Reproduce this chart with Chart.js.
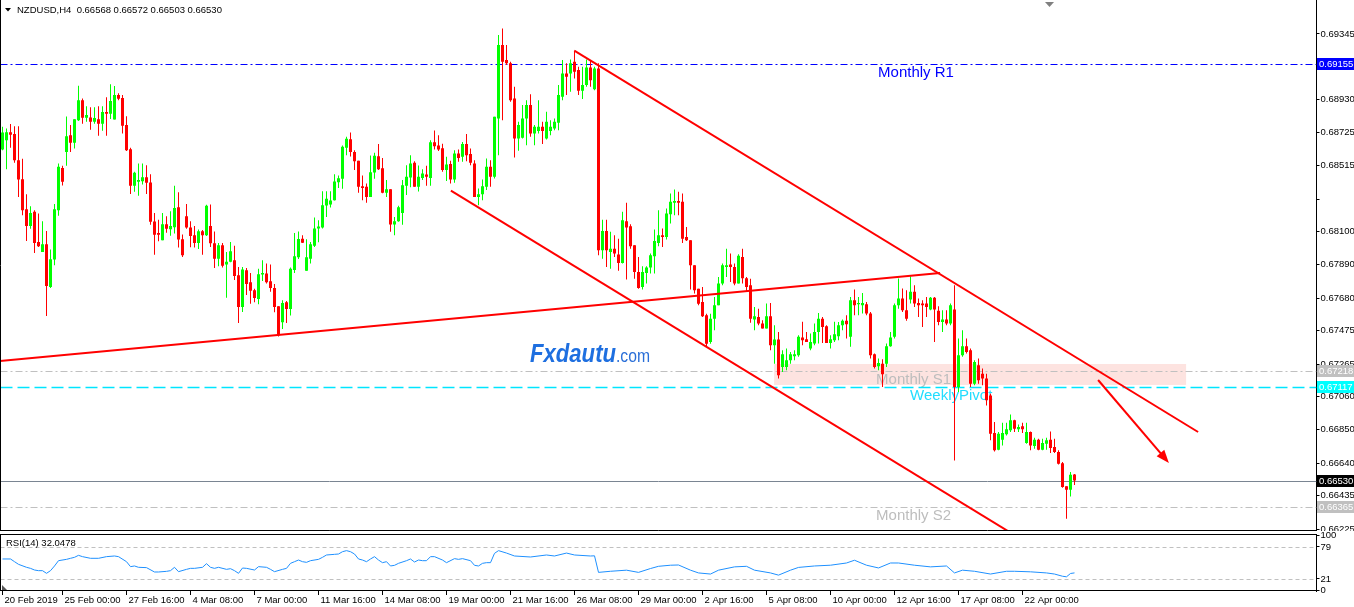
<!DOCTYPE html>
<html>
<head>
<meta charset="utf-8">
<script src="https://cdn.jsdelivr.net/npm/chart.js@4.4.1/dist/chart.umd.min.js"></script>
<style>
  html, body { margin: 0; padding: 0; background: #fff; }
  #wrap { position: relative; width: 1354px; height: 607px; overflow: hidden; background: #fff; }
  #main { position: absolute; left: 0; top: 0; }
  #rsi { position: absolute; left: 0; top: 531px; }
</style>
</head>
<body>
<div id="wrap">
  <canvas id="main" width="1354" height="531"></canvas>
  <canvas id="rsi" width="1354" height="76"></canvas>
</div>
<script>
// NZDUSD H4 candles
const opens = [
  .68617,.68676,.68726,.68714,.68550,.68430,.68241,.68135,.68224,.68034,
  .67971,.68020,.67751,.67923,.68234,.68501,.68602,.68707,.68659,.68802,
  .68928,.68817,.68819,.68792,.68808,.68779,.68853,.68842,.68806,.68960,
  .68941,.68771,.68619,.68388,.68413,.68417,.68442,.68409,.68163,.68091,
  .68045,.68146,.68114,.68127,.68253,.68051,.68196,.68125,.68077,.68028,
  .68102,.68077,.68135,.68026,.67929,.68013,.67892,.67910,.67919,.67824,
  .67624,.67856,.67780,.67730,.67675,.67829,.67835,.67786,.67744,.67629,
  .67528,.67654,.67612,.67858,.67938,.68055,.67852,.67929,.68011,.68119,
  .68125,.68264,.68270,.68297,.68411,.68432,.68628,.68682,.68602,.68546,
  .68386,.68382,.68318,.68472,.68575,.68499,.68344,.68367,.68144,.68165,
  .68217,.68388,.68440,.68533,.68382,.68438,.68459,.68438,.68663,.68642,
  .68625,.68487,.68525,.68428,.68592,.68571,.68651,.68588,.68529,.68318,
  .68335,.68382,.68508,.68445,.68813,.69275,.69181,.69160,.68939,.68687,
  .68691,.68813,.68897,.68718,.68733,.68760,.68687,.68733,.68750,.68785,
  .68949,.69096,.69096,.69170,.69118,.68987,.69023,.69134,.68996,.69128,
  .67982,.68104,.67971,.67992,.67955,.67902,.68165,.68133,.68013,.67845,
  .67751,.67839,.67873,.67944,.68028,.68077,.68066,.68209,.68281,.68293,
  .68287,.68066,.68045,.67887,.67740,.67656,.67572,.67404,.67551,.67635,
  .67772,.67877,.67892,.67877,.67772,.67940,.67806,.67762,.67545,.67562,
  .67520,.67488,.67566,.67383,.67419,.67246,.67246,.67288,.67314,.67320,
  .67432,.67421,.67362,.67394,.67467,.67551,.67503,.67398,.67415,.67440,
  .67509,.67537,.67436,.67667,.67642,.67635,.67642,.67583,.67326,.67251,
  .67267,.67267,.67377,.67436,.67636,.67678,.67604,.67671,.67720,.67650,
  .67646,.67646,.67608,.67682,.67600,.67530,.67545,.67520,.67608,.67120,
  .67320,.67377,.67352,.67141,.67257,.67204,.67173,.67067,.66830,.66725,
  .66788,.66822,.66847,.66910,.66853,.66872,.66767,.66836,.66748,.66788,
  .66725,.66763,.66788,.66742,.66710,.66640,.66494,.66472,.66568
];
const highs = [
  .68760,.68750,.68777,.68764,.68764,.68558,.68335,.68260,.68234,.68213,
  .68165,.68104,.67986,.68274,.68529,.68514,.68825,.68771,.68808,.69019,
  .68939,.68890,.68884,.68884,.68890,.68890,.68947,.69029,.69017,.68972,
  .68960,.68827,.68628,.68476,.68529,.68529,.68518,.68461,.68217,.68175,
  .68217,.68196,.68228,.68388,.68348,.68081,.68274,.68165,.68135,.68112,
  .68110,.68268,.68270,.68100,.68028,.68028,.67971,.68034,.68011,.67877,
  .67877,.67870,.67839,.67740,.67866,.67919,.67898,.67892,.67770,.67629,
  .67667,.67662,.67873,.68091,.68100,.68077,.68051,.68034,.68188,.68171,
  .68354,.68354,.68354,.68461,.68453,.68642,.68697,.68724,.68613,.68546,
  .68453,.68403,.68579,.68596,.68651,.68564,.68424,.68367,.68192,.68262,
  .68424,.68518,.68581,.68543,.68516,.68493,.68514,.68676,.68737,.68707,
  .68653,.68571,.68546,.68613,.68617,.68665,.68714,.68623,.68550,.68371,
  .68428,.68560,.68550,.68823,.69338,.69380,.69275,.69170,.69012,.68792,
  .68897,.68928,.68966,.68771,.68928,.68792,.68855,.68802,.68813,.69023,
  .69181,.69160,.69185,.69240,.69139,.69139,.69185,.69181,.69139,.69160,
  .68175,.68175,.68098,.68077,.68055,.68224,.68281,.68146,.68013,.67940,
  .67881,.67881,.67961,.68112,.68234,.68119,.68245,.68340,.68365,.68350,
  .68340,.68129,.68045,.67887,.67740,.67751,.67582,.67582,.67688,.67814,
  .67898,.67992,.67961,.67898,.67957,.67992,.67814,.67803,.67625,.67614,
  .67541,.67646,.67650,.67509,.67467,.67352,.67362,.67341,.67352,.67446,
  .67531,.67467,.67457,.67520,.67587,.67562,.67509,.67446,.67531,.67529,
  .67545,.67572,.67688,.67734,.67688,.67713,.67656,.67593,.67331,.67299,
  .67295,.67394,.67467,.67646,.67804,.67741,.67730,.67818,.67762,.67678,
  .67667,.67688,.67688,.67688,.67629,.67604,.67604,.67646,.67762,.67425,
  .67478,.67425,.67362,.67289,.67299,.67236,.67204,.67078,.66900,.66836,
  .66894,.66894,.66946,.66914,.66883,.66894,.66894,.66840,.66800,.66794,
  .66794,.66800,.66840,.66794,.66721,.66647,.66494,.66584,.66572
];
const lows = [
  .68613,.68493,.68628,.68533,.68318,.68203,.68041,.68117,.67965,.68003,
  .67971,.67568,.67744,.67887,.68199,.68390,.68514,.68602,.68623,.68796,
  .68779,.68792,.68741,.68779,.68703,.68735,.68703,.68810,.68806,.68928,
  .68718,.68607,.68337,.68350,.68325,.68396,.68337,.68142,.67953,.68039,
  .68045,.68093,.68074,.68087,.67999,.67939,.68117,.68001,.67999,.67990,
  .67953,.68072,.68003,.67870,.67881,.67873,.67683,.67906,.67795,.67524,
  .67593,.67700,.67645,.67654,.67641,.67788,.67772,.67721,.67591,.67439,
  .67486,.67524,.67570,.67839,.67927,.68028,.67852,.67898,.68003,.68032,
  .68119,.68192,.68251,.68295,.68375,.68369,.68581,.68573,.68487,.68344,
  .68297,.68281,.68318,.68432,.68487,.68342,.68318,.68098,.68077,.68161,
  .68142,.68331,.68379,.68382,.68352,.68424,.68388,.68388,.68617,.68607,
  .68476,.68419,.68403,.68407,.68539,.68539,.68543,.68518,.68318,.68266,
  .68297,.68361,.68382,.68434,.68581,.68802,.69149,.68918,.68567,.68609,
  .68687,.68644,.68697,.68644,.68718,.68651,.68680,.68707,.68739,.68739,
  .68928,.68960,.68981,.69065,.68960,.68935,.69012,.69012,.68991,.67950,
  .67929,.67877,.67866,.67940,.67852,.67898,.67797,.67992,.67803,.67740,
  .67734,.67772,.67835,.67835,.68007,.68003,.68050,.68150,.68203,.68203,
  .68028,.68041,.67734,.67709,.67635,.67561,.67376,.67393,.67477,.67635,
  .67761,.67814,.67782,.67761,.67772,.67772,.67725,.67525,.67478,.67509,
  .67488,.67488,.67352,.67267,.67173,.67215,.67225,.67267,.67288,.67310,
  .67383,.67404,.67352,.67383,.67394,.67398,.67398,.67362,.67404,.67415,
  .67478,.67425,.67373,.67572,.67572,.67583,.67572,.67299,.67236,.67225,
  .67120,.67246,.67373,.67425,.67614,.67593,.67537,.67646,.67625,.67562,
  .67499,.67562,.67604,.67404,.67509,.67467,.67509,.67509,.66657,.67088,
  .67310,.67331,.67120,.67131,.67141,.67131,.67004,.66784,.66714,.66721,
  .66752,.66815,.66836,.66836,.66836,.66830,.66763,.66721,.66731,.66721,
  .66721,.66725,.66704,.66704,.66632,.66485,.66289,.66430,.66503
];
const closes = [
  .68724,.68726,.68710,.68550,.68428,.68234,.68135,.68217,.68028,.68007,
  .68020,.67757,.67925,.68241,.68508,.68413,.68701,.68659,.68808,.68928,
  .68817,.68834,.68792,.68815,.68779,.68853,.68842,.68922,.68960,.68937,
  .68766,.68613,.68388,.68470,.68424,.68442,.68407,.68161,.68079,.68079,
  .68146,.68117,.68135,.68249,.68049,.67950,.68125,.68072,.68028,.68102,
  .68077,.68262,.68026,.67929,.68013,.67885,.67910,.67976,.67820,.67624,
  .67860,.67770,.67727,.67681,.67831,.67839,.67780,.67744,.67624,.67446,
  .67650,.67612,.67866,.67944,.68053,.68030,.67938,.68020,.68119,.68131,
  .68266,.68306,.68295,.68415,.68436,.68634,.68684,.68602,.68543,.68382,
  .68375,.68318,.68474,.68577,.68493,.68344,.68367,.68144,.68165,.68253,
  .68392,.68445,.68529,.68382,.68445,.68466,.68445,.68663,.68638,.68617,
  .68487,.68522,.68428,.68592,.68564,.68651,.68581,.68533,.68318,.68335,
  .68386,.68508,.68445,.68823,.69275,.69170,.69160,.68928,.68687,.68771,
  .68813,.68897,.68718,.68760,.68760,.68733,.68792,.68760,.68792,.68960,
  .69096,.69075,.69160,.69107,.68987,.69023,.69134,.69054,.69128,.67982,
  .68104,.67982,.67992,.67961,.67902,.68171,.68125,.68007,.67845,.67744,
  .67845,.67873,.67950,.68041,.68077,.68066,.68213,.68287,.68293,.68281,
  .68055,.68045,.67887,.67730,.67645,.67566,.67393,.67551,.67635,.67772,
  .67887,.67887,.67877,.67772,.67948,.67806,.67751,.67551,.67566,.67520,
  .67488,.67566,.67383,.67419,.67194,.67326,.67288,.67326,.67326,.67436,
  .67415,.67404,.67404,.67467,.67551,.67499,.67398,.67421,.67453,.67509,
  .67537,.67516,.67667,.67635,.67650,.67650,.67583,.67320,.67246,.67271,
  .67200,.67377,.67432,.67636,.67678,.67604,.67551,.67720,.67646,.67636,
  .67636,.67625,.67682,.67608,.67530,.67545,.67520,.67636,.67120,.67320,
  .67377,.67341,.67141,.67278,.67162,.67173,.67036,.66826,.66721,.66826,
  .66830,.66853,.66910,.66857,.66868,.66853,.66836,.66752,.66788,.66725,
  .66767,.66784,.66735,.66710,.66636,.66489,.66472,.66567,.66530
];

// RSI(14) read at selected bars (bar index, value)
const rsiIdx = [0,2,3,4,6,7,8,9,10,11,12,13,14,16,17,18,19,20,22,24,26,28,29,31,32,33,34,36,38,39,
  41,42,43,44,46,47,48,50,51,52,53,54,56,57,58,59,60,61,63,64,66,67,68,70,71,72,73,74,75,76,
  77,79,80,81,83,84,85,86,87,88,89,90,91,92,93,94,95,96,97,98,99,101,102,103,104,105,106,107,108,110,
  111,113,114,115,117,118,119,120,121,122,123,124,126,128,132,136,138,141,143,147,148,149,152,156,159,162,164,167,169,172,
  174,177,179,183,186,188,192,194,197,199,203,207,211,213,216,219,222,224,228,232,236,238,240,243,247,251,253,257,261,263,
  265,266,267,268];
const rsiVal = [57.3,57.3,52.4,47.6,42.2,40.3,37.3,36.1,36.1,31.3,36.1,44.6,54.2,56.6,58.5,60.3,63.9,61.5,58.5,58.5,61.5,62.7,61.5,52.4,43.4,44.6,42.2,41.6,33.7,33.7,
  34.9,36.1,42.2,34.3,38.5,40.3,40.3,42.2,48.8,42.2,40.3,42.2,38.5,39.7,36.1,31.3,40.9,40.3,37.3,43.4,42.2,38.5,34.3,38.5,40.3,49.4,52.4,55.4,52.4,51.2,
  54.2,56.6,60.3,64.5,65.7,66.3,70.5,72.4,70.5,66.3,57.3,55.4,52.4,57.3,61.5,55.4,50.6,52.4,44.6,45.8,49.4,54.2,57.3,51.8,55.4,54.2,54.2,61.5,61.5,55.4,
  50.6,57.9,56.6,57.9,54.2,45.8,44.6,49.4,50.6,50.6,67.5,72.4,68,62.7,60.9,64.5,62.7,68,64.5,62.7,63,33,35,37,33,40,44,46,46.4,37,
  32,30,37,43,44,37,32,28,37,42,44.6,46,50,55,46,41,50,50,46,43,44.6,32,37,35,30,35,35,34,32,30,
  26,25,31,32.0478];
const rsiLast = 32.0478;
const rsiLevels = [79, 21];
const rsiTicks = [0, 21, 79, 100];

const symbol = 'NZDUSD,H4';
const timeLabels = ['20 Feb 2019','25 Feb 00:00','27 Feb 16:00','4 Mar 08:00','7 Mar 00:00','11 Mar 16:00',
  '14 Mar 08:00','19 Mar 00:00','21 Mar 16:00','26 Mar 08:00','29 Mar 00:00','2 Apr 16:00','5 Apr 08:00',
  '10 Apr 00:00','12 Apr 16:00','17 Apr 08:00','22 Apr 00:00'];
const timeLabelIdx = [0,15,31,47,63,79,95,111,127,143,159,175,191,207,223,239,255];
const priceTicks = [0.69345,0.69140,0.68930,0.68725,0.68515,0.68305,0.68100,0.67890,0.67680,
  0.67475,0.67265,0.67060,0.66850,0.66640,0.66435,0.66225];
const blankPriceTicks = [0.68305];

// horizontal levels
const levelNames = ['Monthly R1', 'Monthly S1', 'WeeklyPivot', 'Monthly S2'];
const levelPrices = [0.69155, 0.67218, 0.67117, 0.66365];
const levelLabelIdx = [218.9, 218.4, 226.9, 218.4];
const bidPrice = closes[closes.length - 1];

// drawn objects (bar index, price)
const zoneIdx = [192.9, 295.9];
const zonePrices = [0.67265, 0.67133];
const trendLines = [
  [[-0.625, 0.672839], [234.4, 0.678386]],
  [[142.95, 0.692397], [298.9, 0.668364]],
  [[112.1, 0.683573], [260, 0.660788]]
];
const arrowLine = [[273.9, 0.671641], [291.6, 0.666410]];

const SLOTS = 329;
const FONT = '"Liberation Sans", Arial, sans-serif';
const bull = '#00ff00', bear = '#ff0000';

const xLabels = new Array(SLOTS).fill('');
timeLabelIdx.forEach((k, j) => { xLabels[k] = timeLabels[j]; });
const candleColors = closes.map((c, i) => c >= opens[i] ? bull : bear);
const rsiSeries = new Array(closes.length).fill(null);
rsiIdx.forEach((k, j) => { rsiSeries[k] = rsiVal[j]; });

const levelColors = ['#0000ff', '#c0c0c0', '#00e5ff', '#c0c0c0'];
const levelDash = [[7, 3, 2, 3], [7, 3, 2, 3], [12, 5], [7, 3, 2, 3]];
const levelText = ['#0000ff', '#bdbdbd', '#22ddff', '#bdbdbd'];
const boxColors = ['#0000ff', '#c0c0c0', '#00ffff', '#c0c0c0'];

function priceBox(ctx, yPix, left, bg, txt) {
  ctx.fillStyle = bg;
  ctx.fillRect(left + 0.5, Math.round(yPix) - 6, 40, 12);
  ctx.fillStyle = '#fff';
  ctx.font = '9.5px ' + FONT;
  ctx.textBaseline = 'middle';
  ctx.textAlign = 'left';
  ctx.fillText(txt, left + 2.5, Math.round(yPix) + 0.5);
}

const mainOverlay = {
  id: 'mainOverlay',
  beforeDatasetsDraw(chart) {
    const { ctx, chartArea: a, scales: { x, y } } = chart;
    ctx.save();
    ctx.beginPath(); ctx.rect(a.left, a.top, a.width, a.height); ctx.clip();

    // support zone
    const zx1 = x.getPixelForValue(zoneIdx[0]), zx2 = x.getPixelForValue(zoneIdx[1]);
    const zy1 = y.getPixelForValue(zonePrices[0]), zy2 = y.getPixelForValue(zonePrices[1]);
    ctx.fillStyle = '#fde3e0';
    ctx.fillRect(zx1, zy1, zx2 - zx1, zy2 - zy1);

    // watermark
    ctx.textBaseline = 'alphabetic';
    ctx.textAlign = 'left';
    ctx.font = 'bold italic 26px ' + FONT;
    const w1 = ctx.measureText('Fxdautu').width;
    ctx.save(); ctx.translate(530, 362); ctx.scale(86 / w1, 1);
    ctx.fillStyle = '#1e6fe0'; ctx.fillText('Fxdautu', 0, 0); ctx.restore();
    ctx.font = '18px ' + FONT;
    const w2 = ctx.measureText('.com').width;
    ctx.save(); ctx.translate(616, 362); ctx.scale(34 / w2, 1);
    ctx.fillStyle = '#2a6fd8'; ctx.fillText('.com', 0, 0); ctx.restore();

    // levels
    levelPrices.forEach((p, k) => {
      const py = Math.round(y.getPixelForValue(p)) + 0.5;
      ctx.strokeStyle = levelColors[k];
      ctx.lineWidth = k === 2 ? 1.5 : 1;
      ctx.setLineDash(levelDash[k]);
      ctx.beginPath(); ctx.moveTo(a.left, py); ctx.lineTo(a.right, py); ctx.stroke();
      ctx.setLineDash([]);
      ctx.fillStyle = levelText[k];
      ctx.font = '15px ' + FONT;
      ctx.textBaseline = 'top';
      ctx.fillText(levelNames[k], x.getPixelForValue(levelLabelIdx[k]), py + 1);
    });

    // bid line
    const by = Math.round(y.getPixelForValue(bidPrice)) + 0.5;
    ctx.strokeStyle = '#7a8592'; ctx.lineWidth = 1;
    ctx.beginPath(); ctx.moveTo(a.left, by); ctx.lineTo(a.right, by); ctx.stroke();
    ctx.restore();
  },
  afterDatasetsDraw(chart) {
    const { ctx, chartArea: a, scales: { x, y } } = chart;
    ctx.save();
    ctx.beginPath(); ctx.rect(a.left, a.top, a.width, a.height); ctx.clip();
    ctx.strokeStyle = '#ff0000'; ctx.fillStyle = '#ff0000'; ctx.lineWidth = 2;
    trendLines.forEach(l => {
      ctx.beginPath();
      ctx.moveTo(x.getPixelForValue(l[0][0]), y.getPixelForValue(l[0][1]));
      ctx.lineTo(x.getPixelForValue(l[1][0]), y.getPixelForValue(l[1][1]));
      ctx.stroke();
    });
    // arrow
    const ax1 = x.getPixelForValue(arrowLine[0][0]), ay1 = y.getPixelForValue(arrowLine[0][1]);
    const ax2 = x.getPixelForValue(arrowLine[1][0]), ay2 = y.getPixelForValue(arrowLine[1][1]);
    const len = Math.hypot(ax2 - ax1, ay2 - ay1), ux = (ax2 - ax1) / len, uy = (ay2 - ay1) / len;
    ctx.beginPath(); ctx.moveTo(ax1, ay1); ctx.lineTo(ax2 - ux * 6, ay2 - uy * 6); ctx.stroke();
    const bx = ax2 - ux * 13, byy = ay2 - uy * 13;
    ctx.beginPath();
    ctx.moveTo(ax2, ay2);
    ctx.lineTo(bx - uy * 5, byy + ux * 5);
    ctx.lineTo(bx + uy * 5, byy - ux * 5);
    ctx.closePath(); ctx.fill();
    ctx.restore();
  },
  afterDraw(chart) {
    const { ctx, chartArea: a, scales: { y } } = chart;
    ctx.save();
    // borders
    ctx.strokeStyle = '#000'; ctx.lineWidth = 1;
    ctx.beginPath();
    ctx.moveTo(0.5, 0); ctx.lineTo(0.5, a.bottom);
    ctx.moveTo(0, a.bottom - 0.5); ctx.lineTo(a.right, a.bottom - 0.5);
    ctx.stroke();
    // price boxes on the axis
    levelPrices.forEach((p, k) => priceBox(ctx, y.getPixelForValue(p), a.right, boxColors[k], p.toFixed(5)));
    priceBox(ctx, y.getPixelForValue(bidPrice), a.right, '#000', bidPrice.toFixed(5));
    // header
    ctx.fillStyle = '#000';
    ctx.beginPath(); ctx.moveTo(5, 8); ctx.lineTo(11, 8); ctx.lineTo(8, 11.5); ctx.closePath(); ctx.fill();
    ctx.font = '9.5px ' + FONT; ctx.textBaseline = 'middle'; ctx.textAlign = 'left';
    const last = closes.length - 1;
    ctx.fillText(symbol + '  ' + [opens[last], highs[last], lows[last], closes[last]].map(v => v.toFixed(5)).join(' '), 17, 10.5);
    // shift marker
    ctx.fillStyle = '#808080';
    ctx.beginPath(); ctx.moveTo(1045, 2); ctx.lineTo(1054, 2); ctx.lineTo(1049.5, 7); ctx.closePath(); ctx.fill();
    ctx.restore();
  }
};

new Chart(document.getElementById('main'), {
  type: 'bar',
  data: {
    labels: xLabels,
    datasets: [
      { data: opens.map((o, i) => [Math.min(o, closes[i]), Math.max(o, closes[i])]),
        backgroundColor: candleColors, barThickness: 3, minBarLength: 1, grouped: false, inflateAmount: 0, borderWidth: 0 },
      { data: lows.map((l, i) => [l, highs[i]]),
        backgroundColor: candleColors, barThickness: 1, grouped: false, inflateAmount: 0, borderWidth: 0 }
    ]
  },
  options: {
    responsive: false, animation: false, devicePixelRatio: 1, events: [],
    layout: { padding: { left: 0.5, top: 0, right: 0, bottom: 0 } },
    plugins: { legend: { display: false }, tooltip: { enabled: false } },
    scales: {
      x: { type: 'category', offset: true, display: false },
      y: {
        position: 'right', min: 0.662124, max: 0.695593,
        afterBuildTicks: s => { s.ticks = priceTicks.map(v => ({ value: v })); },
        afterFit: s => { s.width = 37.5; s.paddingTop = 0; s.paddingBottom = 0; },
        grid: { drawOnChartArea: false, tickLength: 3, color: '#000' },
        border: { color: '#000' },
        ticks: { autoSkip: false, padding: 1, color: '#000', font: { family: FONT, size: 9.5 },
          callback: v => blankPriceTicks.includes(v) ? '' : v.toFixed(5) }
      }
    }
  },
  plugins: [mainOverlay]
});

const rsiOverlay = {
  id: 'rsiOverlay',
  beforeDatasetsDraw(chart) {
    const { ctx, chartArea: a, scales: { y } } = chart;
    ctx.save();
    ctx.strokeStyle = '#c0c0c0'; ctx.lineWidth = 1; ctx.setLineDash([4, 3]);
    rsiLevels.forEach(v => {
      const py = Math.round(y.getPixelForValue(v)) + 0.5;
      ctx.beginPath(); ctx.moveTo(a.left, py); ctx.lineTo(a.right, py); ctx.stroke();
    });
    ctx.restore();
  },
  afterDraw(chart) {
    const { ctx, chartArea: a } = chart;
    ctx.save();
    ctx.strokeStyle = '#000'; ctx.lineWidth = 1;
    ctx.strokeRect(0.5, a.top + 0.5, a.right - 0.5, a.bottom - a.top - 1);
    ctx.fillStyle = '#000';
    ctx.font = '9.5px ' + FONT; ctx.textBaseline = 'middle'; ctx.textAlign = 'left';
    ctx.fillText('RSI(14) ' + rsiLast.toFixed(4), 6, 12.5);
    ctx.fillStyle = '#555';
    ctx.beginPath(); ctx.moveTo(2, a.bottom - 6); ctx.lineTo(2, a.bottom - 1); ctx.lineTo(7, a.bottom - 1); ctx.closePath(); ctx.fill();
    ctx.restore();
  }
};

new Chart(document.getElementById('rsi'), {
  type: 'line',
  data: {
    labels: xLabels,
    datasets: [{ data: rsiSeries, borderColor: '#1e90ff', borderWidth: 1, pointRadius: 0, spanGaps: true, tension: 0 }]
  },
  options: {
    responsive: false, animation: false, devicePixelRatio: 1, events: [],
    layout: { padding: { left: 0.5, top: 3, right: 0, bottom: 0 } },
    plugins: { legend: { display: false }, tooltip: { enabled: false } },
    scales: {
      x: {
        type: 'category', offset: true,
        afterFit: s => { s.height = 16; s.paddingLeft = 0; s.paddingRight = 0; },
        grid: { offset: false, drawOnChartArea: false, tickLength: 4,
          color: c => (c.tick && c.tick.label) ? '#000' : 'rgba(0,0,0,0)' },
        border: { display: false },
        ticks: { autoSkip: false, maxRotation: 0, minRotation: 0, align: 'start', padding: 0, labelOffset: 2,
          color: '#000', font: { family: FONT, size: 9.5 } }
      },
      y: {
        position: 'right', min: -0.75, max: 102.56,
        afterBuildTicks: s => { s.ticks = rsiTicks.map(v => ({ value: v })); },
        afterFit: s => { s.width = 37.5; s.paddingTop = 0; s.paddingBottom = 0; },
        grid: { drawOnChartArea: false, tickLength: 3, color: '#000' },
        border: { color: '#000' },
        ticks: { autoSkip: false, padding: 1, color: '#000', font: { family: FONT, size: 9.5 } }
      }
    }
  },
  plugins: [rsiOverlay]
});
</script>
</body>
</html>
